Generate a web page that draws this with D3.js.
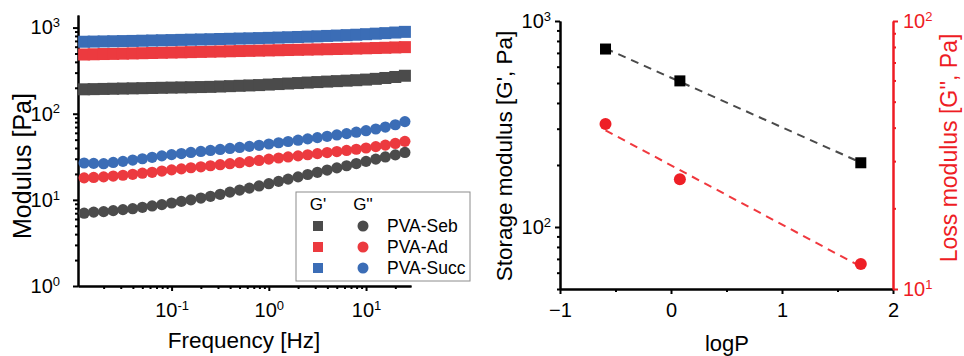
<!DOCTYPE html>
<html>
<head>
<meta charset="utf-8">
<script src="https://cdn.jsdelivr.net/npm/d3@7"></script>
<style>
  body { margin: 0; background: #fff; }
  svg { display: block; font-family: Arial, "Liberation Sans", sans-serif; }
  .axis path, .axis line { stroke: #000; stroke-width: 2; }
  .axis text { font-size: 20px; fill: #000; font-family: Arial, "Liberation Sans", sans-serif; }
  .axis.red path, .axis.red line { stroke: #ee1c24; }
  .axis.red text { fill: #ee1c24; }
</style>
</head>
<body>
<div id="chart"></div>
<script>
// Frequency sweep (Hz)
var freq = [0.0126, 0.0158, 0.02, 0.0251, 0.0316, 0.0398, 0.0501, 0.0631, 0.0794, 0.1,
            0.126, 0.158, 0.2, 0.251, 0.316, 0.398, 0.501, 0.631, 0.794, 1,
            1.26, 1.58, 2, 2.51, 3.16, 3.98, 5.01, 6.31, 7.94, 10,
            12.6, 15.8, 20, 25.1];

// storage modulus G' (Pa)
var gpSeb  = [192, 193, 194, 195, 196, 197, 198, 199, 200, 201, 202, 203, 204, 205, 207, 209, 211,
              213, 215, 218, 221, 224, 227, 230, 233, 236, 239, 242, 245, 249, 254, 260, 267, 276];
var gpAd   = [487, 490, 493, 495, 498, 501, 504, 507, 510, 513, 516, 519, 522, 525, 528, 531, 534,
              537, 540, 543, 546, 549, 552, 555, 558, 561, 564, 567, 571, 575, 579, 583, 588, 593];
var gpSucc = [685, 688, 691, 694, 697, 700, 704, 708, 712, 716, 720, 724, 728, 732, 737, 741, 746,
              750, 755, 760, 766, 772, 778, 785, 792, 800, 808, 817, 826, 838, 850, 862, 876, 892];

// loss modulus G'' (Pa)
var gppSeb  = [7.0, 7.2, 7.3, 7.5, 7.7, 7.9, 8.2, 8.5, 8.8, 9.2, 9.6, 10.0, 10.5, 11.0, 11.6, 12.3, 13.0,
               13.7, 14.5, 15.4, 16.4, 17.4, 18.5, 19.7, 20.9, 22.2, 23.5, 24.9, 26.4, 28.0, 29.7, 31.5, 33.3, 35.5];
var gppAd   = [18.0, 18.2, 18.5, 18.9, 19.3, 19.8, 20.4, 20.9, 21.6, 22.3, 22.9, 23.6, 24.2, 24.9, 25.6, 26.3, 27.0,
               27.8, 28.7, 29.7, 30.6, 31.5, 32.4, 33.4, 34.4, 35.4, 36.4, 37.5, 38.7, 40.0, 41.5, 43.2, 45.2, 47.8];
var gppSucc = [26.8, 26.5, 26.3, 27.2, 28.0, 29.0, 30.0, 31.2, 32.4, 33.5, 34.5, 35.5, 36.5, 37.5, 38.5, 39.5, 40.6,
               41.8, 43.0, 44.5, 46.0, 47.6, 49.3, 51.0, 52.8, 54.7, 56.7, 58.8, 61.0, 63.5, 66.5, 70.0, 74.5, 81.0];

var sampleNames = ["PVA-Seb", "PVA-Ad", "PVA-Succ"];
var sampleColors = ["#4b4b4b", "#ec3a3f", "#3b6db6"];

// right panel: modulus vs logP
var logP = [-0.59, 0.08, 1.71];
var storageMod = [731, 512, 205];
var lossMod = [41.3, 25.7, 12.4];

var W = 964, H = 356;
var svg = d3.select("#chart").append("svg").attr("width", W).attr("height", H);

function supLabels(sel) {
	sel.selectAll(".tick text").each(function(d) {
		var t = d3.select(this);
		if (t.text() === "") return;
		var e = Math.round(Math.log10(d));
		t.text("");
		t.append("tspan").text("10");
		t.append("tspan").attr("dy", "-0.55em").style("font-size", "13px").text(e < 0 ? "-" + (-e) : e);
	});
}

function logTicks(lo, hi) {
	var out = [];
	for (var p = -3; p <= 4; p++) {
		for (var m = 1; m < 10; m++) {
			var v = m * Math.pow(10, p);
			if (v >= lo * 0.999 && v <= hi * 1.001) out.push(v);
		}
	}
	return out;
}
function isMajor(v) { return Math.abs(Math.log10(v) - Math.round(Math.log10(v))) < 1e-6; }

// ---------- left panel ----------
var x1 = d3.scaleLog().domain([0.0109, 29]).range([78, 411]);
var y1 = d3.scaleLog().domain([1, 1400]).range([286, 15]);

var g1 = svg.append("g");

// minor ticks
g1.append("g").attr("class", "axis")
	.attr("transform", "translate(0,286)")
	.call(d3.axisBottom(x1).tickValues(logTicks(0.0109, 29).filter(function(v){ return !isMajor(v); }))
		.tickSize(3).tickSizeOuter(0).tickFormat(""));
g1.append("g").attr("class", "axis")
	.attr("transform", "translate(78,0)")
	.call(d3.axisLeft(y1).tickValues(logTicks(1, 1400).filter(function(v){ return !isMajor(v); }))
		.tickSize(3).tickSizeOuter(0).tickFormat(""));

g1.append("g").attr("class", "axis")
	.attr("transform", "translate(0,286)")
	.call(d3.axisBottom(x1).tickValues([0.1, 1, 10]).tickSize(5).tickSizeOuter(0).tickPadding(12))
	.call(supLabels);
g1.append("g").attr("class", "axis")
	.attr("transform", "translate(78,0)")
	.call(d3.axisLeft(y1).tickValues([1, 10, 100, 1000]).tickSize(5).tickSizeOuter(0).tickPadding(13))
	.call(supLabels);

var gpSets = [gpSeb, gpAd, gpSucc];
var gppSets = [gppSeb, gppAd, gppSucc];

gppSets.forEach(function(vals, k) {
	g1.append("g").selectAll("circle")
		.data(vals).enter().append("circle")
		.attr("cx", function(d, i) { return x1(freq[i]); })
		.attr("cy", function(d) { return y1(d); })
		.attr("r", 5.6)
		.attr("fill", sampleColors[k]);
});
gpSets.forEach(function(vals, k) {
	g1.append("g").selectAll("rect")
		.data(vals).enter().append("rect")
		.attr("x", function(d, i) { return x1(freq[i]) - 6; })
		.attr("y", function(d) { return y1(d) - 6; })
		.attr("width", 12).attr("height", 12)
		.attr("fill", sampleColors[k]);
});

g1.append("text")
	.attr("x", 244).attr("y", 348)
	.attr("text-anchor", "middle")
	.style("font-size", "22.5px")
	.text("Frequency [Hz]");
g1.append("text")
	.attr("transform", "translate(31,166) rotate(-90)")
	.attr("text-anchor", "middle")
	.style("font-size", "25px")
	.text("Modulus [Pa]");

// legend
var lg = svg.append("g").attr("transform", "translate(296,192)");
lg.append("rect").attr("width", 174).attr("height", 89)
	.attr("fill", "#fff").attr("stroke", "#8c8c8c").attr("stroke-width", 1);
lg.append("text").attr("x", 22).attr("y", 18).style("font-size", "17px").attr("text-anchor", "middle").text("G'");
lg.append("text").attr("x", 67).attr("y", 18).style("font-size", "17px").attr("text-anchor", "middle").text("G''");
sampleNames.forEach(function(name, k) {
	var cy = 34 + k * 21;
	lg.append("rect").attr("x", 17).attr("y", cy - 5).attr("width", 10).attr("height", 10).attr("fill", sampleColors[k]);
	lg.append("circle").attr("cx", 67).attr("cy", cy).attr("r", 5.5).attr("fill", sampleColors[k]);
	lg.append("text").attr("x", 91).attr("y", cy + 6).style("font-size", "17.5px").text(name);
});

// ---------- right panel ----------
var x2 = d3.scaleLinear().domain([-1, 2]).range([560, 893]);
var yL = d3.scaleLog().domain([50, 1000]).range([289, 21]);
var yR = d3.scaleLog().domain([10, 100]).range([289, 21]);

var g2 = svg.append("g");

g2.append("g").attr("class", "axis")
	.attr("transform", "translate(0,289)")
	.call(d3.axisBottom(x2).tickValues([-0.5, 0.5, 1.5]).tickSize(3).tickSizeOuter(0).tickFormat(""));
g2.append("g").attr("class", "axis")
	.attr("transform", "translate(0,289)")
	.call(d3.axisBottom(x2).tickValues([-1, 0, 1, 2]).tickSize(5).tickSizeOuter(0).tickPadding(9)
		.tickFormat(function(d) { return d < 0 ? "\u2212" + (-d) : d; }));

g2.append("g").attr("class", "axis")
	.attr("transform", "translate(560,0)")
	.call(d3.axisLeft(yL).tickValues(logTicks(50, 1000).filter(function(v){ return !isMajor(v); }))
		.tickSize(3).tickSizeOuter(0).tickFormat(""));
g2.append("g").attr("class", "axis")
	.attr("transform", "translate(560,0)")
	.call(d3.axisLeft(yL).tickValues([100, 1000]).tickSize(5).tickSizeOuter(0).tickPadding(4))
	.call(supLabels);

g2.append("g").attr("class", "axis red")
	.attr("transform", "translate(893,0)")
	.call(d3.axisRight(yR).tickValues(logTicks(10, 100).filter(function(v){ return !isMajor(v); }))
		.tickSize(3).tickSizeOuter(0).tickFormat(""));
g2.append("g").attr("class", "axis red")
	.attr("transform", "translate(893,0)")
	.call(d3.axisRight(yR).tickValues([10, 100]).tickSize(5).tickSizeOuter(0).tickPadding(5))
	.call(supLabels);

// linear fit in log space
function fitLine(xs, ys) {
	var ly = ys.map(Math.log10);
	var mx = d3.mean(xs), my = d3.mean(ly);
	var sxy = d3.sum(xs, function(v, i) { return (v - mx) * (ly[i] - my); });
	var sxx = d3.sum(xs, function(v) { return (v - mx) * (v - mx); });
	var b = sxy / sxx, a = my - b * mx;
	var ends = d3.extent(xs);
	return ends.map(function(v) { return [v, Math.pow(10, a + b * v)]; });
}

var fitS = fitLine(logP, storageMod);
var fitL = fitLine(logP, lossMod);

g2.append("path")
	.attr("d", d3.line().x(function(d){ return x2(d[0]); }).y(function(d){ return yL(d[1]); })(fitS))
	.attr("fill", "none").attr("stroke", "#4a4a4a").attr("stroke-width", 2)
	.attr("stroke-dasharray", "8,6");
g2.append("path")
	.attr("d", d3.line().x(function(d){ return x2(d[0]); }).y(function(d){ return yR(d[1]); })(fitL))
	.attr("fill", "none").attr("stroke", "#f0383e").attr("stroke-width", 2)
	.attr("stroke-dasharray", "8,6");

g2.selectAll("rect.sm")
	.data(storageMod).enter().append("rect").attr("class", "sm")
	.attr("x", function(d, i) { return x2(logP[i]) - 5.5; })
	.attr("y", function(d) { return yL(d) - 5.5; })
	.attr("width", 11).attr("height", 11)
	.attr("fill", "#000");
g2.selectAll("circle.lm")
	.data(lossMod).enter().append("circle").attr("class", "lm")
	.attr("cx", function(d, i) { return x2(logP[i]); })
	.attr("cy", function(d) { return yR(d); })
	.attr("r", 6)
	.attr("fill", "#ee1f26");

g2.append("text")
	.attr("x", 727).attr("y", 351)
	.attr("text-anchor", "middle")
	.style("font-size", "22px")
	.text("logP");
g2.append("text")
	.attr("transform", "translate(512,156) rotate(-90)")
	.attr("text-anchor", "middle")
	.style("font-size", "22.5px")
	.text("Storage modulus [G', Pa]");
g2.append("text")
	.attr("transform", "translate(957,148) rotate(-90)")
	.attr("text-anchor", "middle")
	.style("font-size", "23px")
	.attr("fill", "#ee1c24")
	.text("Loss modulus [G'', Pa]");
</script>
</body>
</html>
